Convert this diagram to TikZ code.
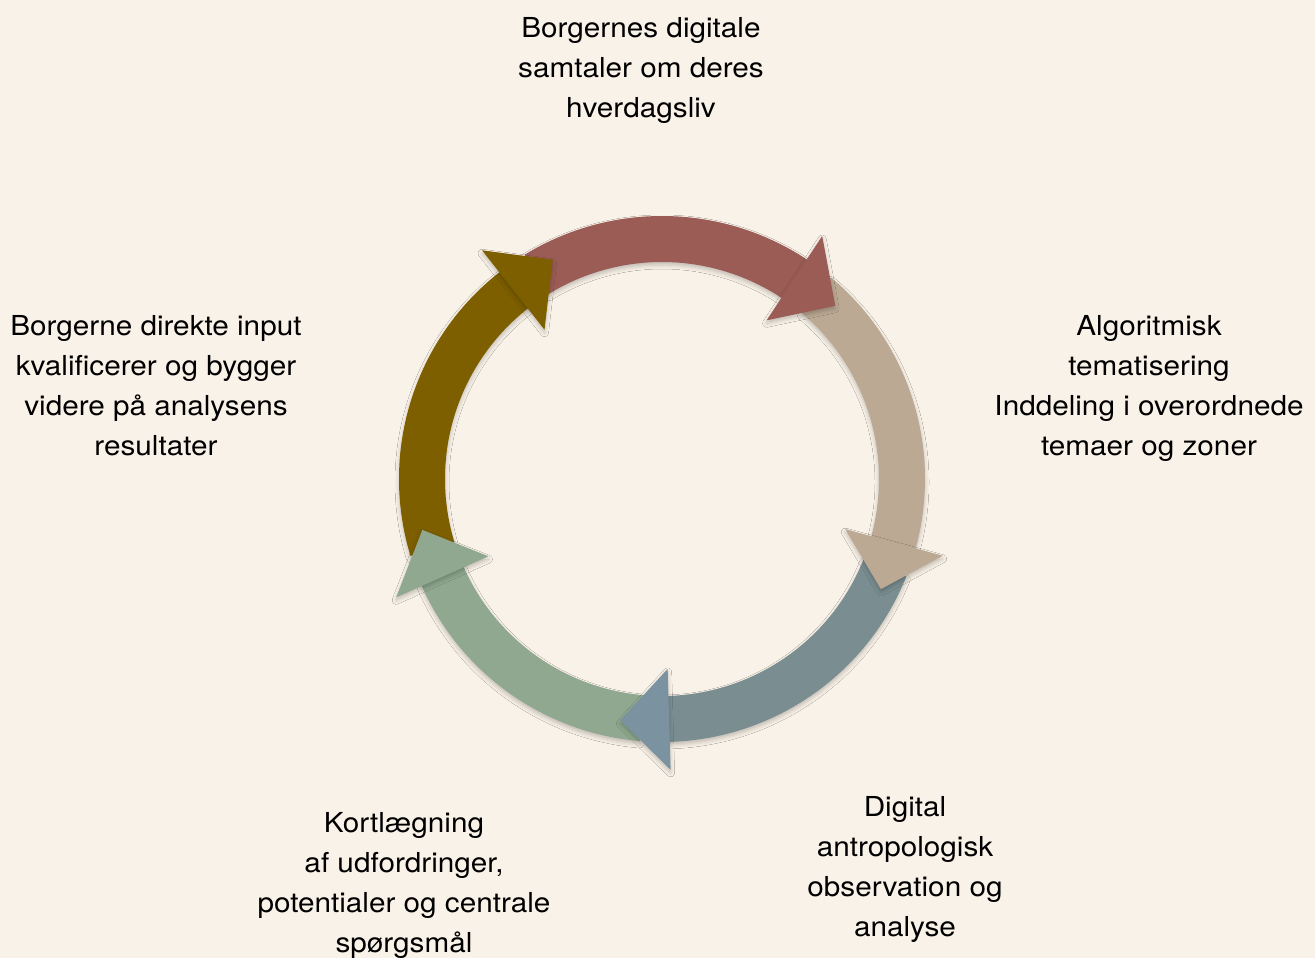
\documentclass[tikz,border=0pt]{standalone}
\usepackage{fontspec}
\setmainfont{TeX Gyre Heros}[FakeStretch=1.08]
\usetikzlibrary{shadows.blur}
\definecolor{bg}{HTML}{F9F2E8}
\definecolor{cred}{HTML}{9A5C55}
\definecolor{ctan}{HTML}{BBA994}
\definecolor{cblue}{HTML}{7A8E92}
\definecolor{cbluehead}{HTML}{7B93A0}
\definecolor{cgreen}{HTML}{8FA88F}
\definecolor{colive}{HTML}{7D5F00}
\newcommand\ringseg[3]{\fill[#1,shd] (#2:263pt) arc[start angle=#2,end angle=#3,radius=263pt] -- (#3:217pt) arc[start angle=#3,end angle=#2,radius=217pt] -- cycle;}
\newcommand\ringhead[3]{\fill[#1,shd] (#2:190pt) -- (#3:245pt) -- (#2:291pt) -- cycle;}
\begin{document}
\begin{tikzpicture}[x=1pt,y=1pt,
  lbl/.style={align=center, anchor=north, inner sep=0pt, font=\fontsize{27.5}{40}\selectfont, text=black},
  shd/.style={blur shadow={shadow xshift=0pt, shadow yshift=-3pt, shadow blur radius=4pt, shadow opacity=22}},
]
\fill[bg] (0,0) rectangle (1315,958);
\useasboundingbox (0,0) rectangle (1315,958);
\begin{scope}[shift={(662,479)}]
  % bodies
  \ringseg{cred}{121.5}{55.6}
  \ringseg{ctan}{50}{-16.3}
  \ringseg{cblue}{-21.7}{-89.3}
  \ringseg{cgreen}{-94.8}{-157}
  \ringseg{colive}{197}{127.2}
  % heads
  \ringhead{cred}{56.6}{45}
  \ringhead{ctan}{-15.3}{-26.7}
  \ringhead{cbluehead}{-88.3}{-99.8}
  \ringhead{cgreen}{-156}{-168}
  \ringhead{colive}{128.2}{116.5}
\end{scope}
\node[lbl] (top) at (641,949) {\strut Borgernes digitale\\samtaler om deres\\hverdagsliv};
\node[lbl] (right) at (1149,651) {\strut Algoritmisk\\tematisering\\Inddeling i overordnede\\temaer og zoner};
\node[lbl] (left) at (156,651) {\strut Borgerne direkte input\\kvalificerer og bygger\\videre på analysens\\resultater};
\node[lbl] (bright) at (905,170) {\strut Digital\\antropologisk\\observation og\\analyse};
\node[lbl] (bleft) at (404,154) {\strut Kortlægning\\af udfordringer,\\potentialer og centrale\\spørgsmål};
\end{tikzpicture}
\end{document}
